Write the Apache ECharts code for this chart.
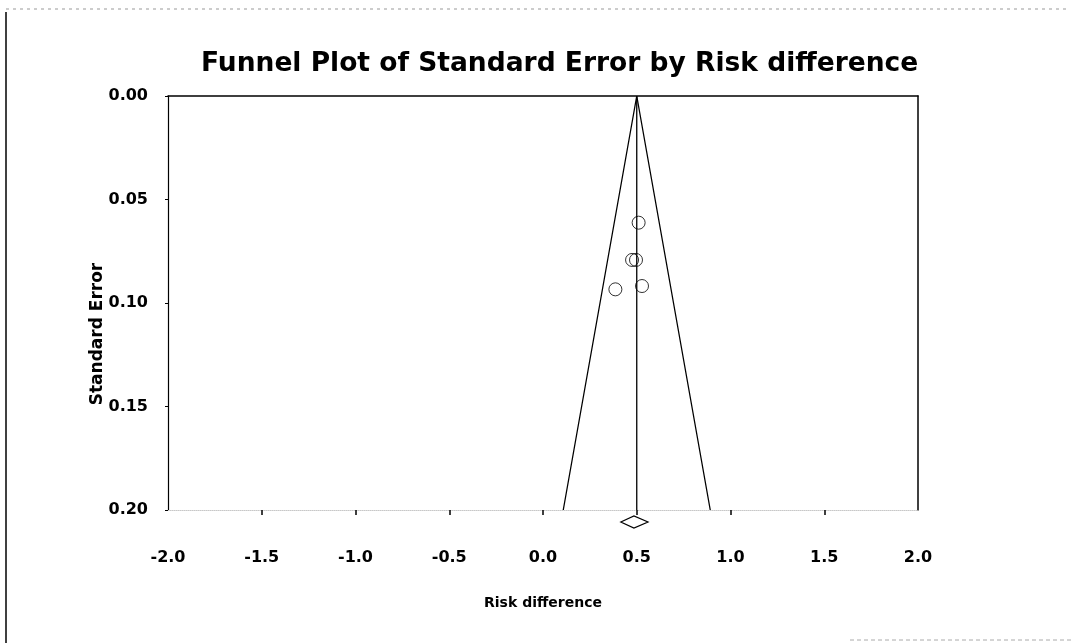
<!DOCTYPE html>
<html>
<head>
<meta charset="utf-8">
<script src="https://cdn.jsdelivr.net/npm/echarts@6/dist/echarts.min.js"></script>
<style>
  html, body { margin: 0; padding: 0; background: #ffffff; }
  #chart { width: 1072px; height: 643px; }
</style>
</head>
<body>
<div id="chart"></div>
<script>
// ---- data ----
const studyRiskDiff = [0.51, 0.475, 0.496, 0.386, 0.528];
const studySE = [0.0612, 0.0792, 0.0792, 0.0934, 0.0918];
const pooledEstimate = 0.50;
const funnelMaxSE = 0.20;
const funnelZ = 1.96;
const diamondCI = [0.415, 0.485, 0.56];   // lower, point, upper
const xTickLabels = [-2.0, -1.5, -1.0, -0.5, 0.0, 0.5, 1.0, 1.5, 2.0];
const xInnerTicks = [-1.5, -1.0, -0.5, 0.0, 0.5, 1.0, 1.5];
const yTickLabels = [0.00, 0.05, 0.10, 0.15, 0.20];

const FONT = 'DejaVu Sans';
const xMin = xTickLabels[0], xMax = xTickLabels[xTickLabels.length - 1];
const yMin = yTickLabels[0], yMax = yTickLabels[yTickLabels.length - 1];

const scatterData = studyRiskDiff.map((x, i) => [x, studySE[i]]);
const funnelData = [
  [pooledEstimate - funnelZ * funnelMaxSE, funnelMaxSE],
  [pooledEstimate, 0],
  [pooledEstimate + funnelZ * funnelMaxSE, funnelMaxSE]
];
const centerData = [[pooledEstimate, 0], [pooledEstimate, funnelMaxSE]];

const chart = echarts.init(document.getElementById('chart'), null, { renderer: 'canvas' });

chart.setOption({
  backgroundColor: '#ffffff',
  animation: false,
  title: {
    text: 'Funnel Plot of Standard Error by Risk difference',
    left: 196,
    top: 46,
    textStyle: { fontFamily: FONT, fontWeight: 'bold', fontSize: 26.5, color: '#000' }
  },
  grid: { left: 168, right: 154, top: 96, bottom: 133 },
  xAxis: [{
    type: 'value',
    position: 'bottom',
    min: xMin, max: xMax, interval: 0.5,
    name: 'Risk difference',
    nameLocation: 'middle',
    nameGap: 86,
    nameMoveOverlap: false,
    nameTextStyle: { fontFamily: FONT, fontWeight: 'bold', fontSize: 14, color: '#000' },
    axisLine: { show: true, onZero: false, lineStyle: { color: '#c8c8c8', type: 'dotted', width: 1 } },
    axisTick: { show: true, inside: false, length: 5, customValues: xInnerTicks, lineStyle: { color: '#000', width: 1.5 } },
    splitLine: { show: false },
    axisLabel: {
      show: true,
      customValues: xTickLabels,
      margin: 40,
      fontFamily: FONT, fontWeight: 'bold', fontSize: 16, color: '#000',
      formatter: v => v.toFixed(1)
    }
  }, {
    // top border
    type: 'value',
    position: 'top',
    min: xMin, max: xMax, interval: 0.5,
    axisLine: { show: true, onZero: false, lineStyle: { color: '#000', width: 1.5 } },
    axisTick: { show: false },
    axisLabel: { show: false },
    splitLine: { show: false }
  }],
  yAxis: [{
    type: 'value',
    inverse: true,
    position: 'left',
    min: yMin, max: yMax, interval: 0.05,
    name: 'Standard Error',
    nameLocation: 'middle',
    nameGap: 62,
    nameMoveOverlap: false,
    nameTextStyle: { fontFamily: FONT, fontWeight: 'bold', fontSize: 17, color: '#000', padding: [0, 62, 0, 0] },
    axisLine: { show: true, onZero: false, lineStyle: { color: '#000', width: 1.2 } },
    axisTick: { show: true, length: 3, lineStyle: { color: '#000' } },
    splitLine: { show: false },
    axisLabel: {
      margin: 20,
      fontFamily: FONT, fontWeight: 'bold', fontSize: 16, color: '#000',
      formatter: v => v.toFixed(2)
    }
  }, {
    type: 'value',
    position: 'right',
    inverse: true,
    min: yMin, max: yMax, interval: 0.05,
    axisLine: { show: true, onZero: false, lineStyle: { color: '#000', width: 1.5 } },
    axisTick: { show: false },
    axisLabel: { show: false },
    splitLine: { show: false }
  }],
  series: [
    {
      type: 'line',
      data: funnelData,
      symbol: 'none',
      lineStyle: { color: '#000', width: 1.3 },
      silent: true
    },
    {
      type: 'line',
      data: centerData,
      symbol: 'none',
      lineStyle: { color: '#000', width: 1.3 },
      silent: true
    },
    {
      type: 'scatter',
      data: scatterData,
      symbol: 'circle',
      symbolSize: 13,
      itemStyle: { color: 'rgba(255,255,255,0)', borderColor: '#000', borderWidth: 1 }
    },
    {
      type: 'custom',
      clip: false,
      data: [diamondCI],
      renderItem: function (params, api) {
        const lo = api.value(0), pt = api.value(1), hi = api.value(2);
        const yc = api.coord([pt, funnelMaxSE])[1] + 12;
        const pL = api.coord([lo, funnelMaxSE]);
        const pC = api.coord([pt, funnelMaxSE]);
        const pH = api.coord([hi, funnelMaxSE]);
        return {
          type: 'polygon',
          shape: { points: [[pL[0], yc], [pC[0], yc - 6], [pH[0], yc], [pC[0], yc + 6]] },
          style: { fill: '#fff', stroke: '#000', lineWidth: 1.2 }
        };
      }
    }
  ],
  graphic: [
    { type: 'line', shape: { x1: 6, y1: 12, x2: 6, y2: 643 }, style: { stroke: '#000', lineWidth: 1.5 } },
    { type: 'line', shape: { x1: 6, y1: 9, x2: 1066, y2: 9 }, style: { stroke: '#999', lineWidth: 1, lineDash: [3, 4] } },
    { type: 'line', shape: { x1: 850, y1: 640, x2: 1072, y2: 640 }, style: { stroke: '#aaa', lineWidth: 1, lineDash: [4, 3] } }
  ]
});
</script>
</body>
</html>
